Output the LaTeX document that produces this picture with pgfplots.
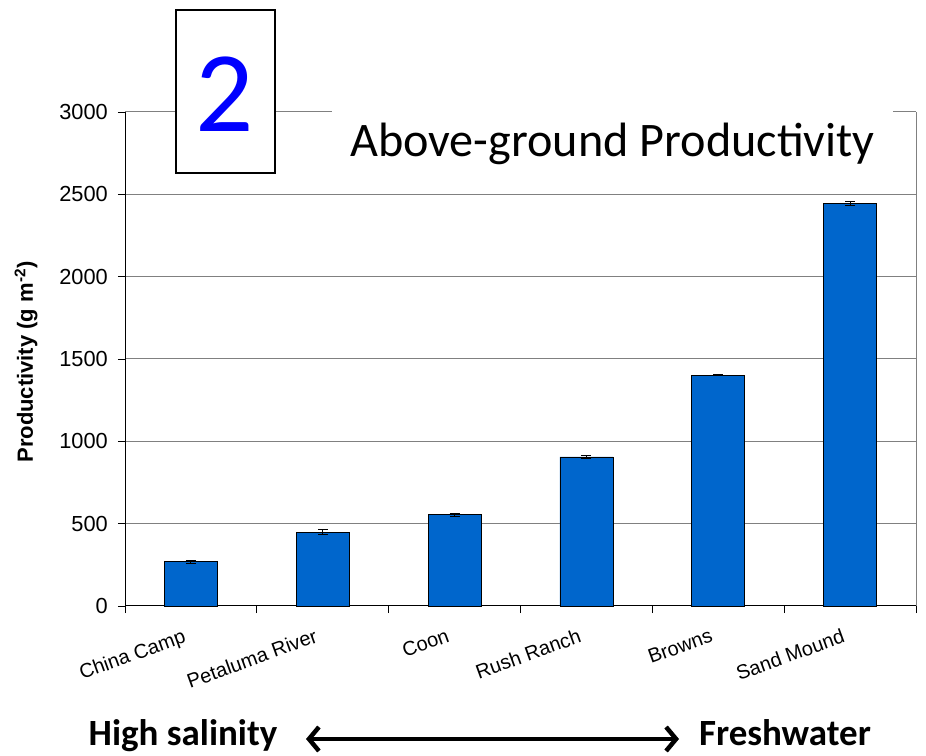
\documentclass[border=0pt]{standalone}
\usepackage{pgfplots}
\pgfplotsset{compat=1.18}
\usepackage{fontspec}
\setmainfont{Liberation Sans}
\newfontfamily\calibri{Carlito}
\usetikzlibrary{arrows.meta}
\definecolor{barblue}{RGB}{0,102,204}
\definecolor{gridgray}{RGB}{128,128,128}
\definecolor{boxblue}{RGB}{0,0,255}

\begin{document}
\begin{tikzpicture}
\begin{axis}[
  at={(125bp,150bp)}, anchor=south west,
  scale only axis, width=791bp, height=494bp,
  xmin=-0.5, xmax=5.5, ymin=0, ymax=3000,
  axis lines*=left,
  axis line style={-, black, line width=1bp},
  ytick={0,500,...,3000},
  xtick={-0.5,0.5,...,5.5},
  x tick label as interval,
  xticklabels={China Camp, Petaluma River, Coon, Rush Ranch, Browns, Sand Mound},
  tick align=outside,
  major tick length=7bp,
  tick style={black, line width=0.8bp},
  ymajorgrids,
  major grid style={gridgray, line width=1bp},
  /pgf/number format/assume math mode=true,
  /pgf/number format/1000 sep={},
  yticklabel style={font=\fontsize{21.8bp}{25bp}\selectfont, inner sep=0pt, xshift=-10bp},
  xticklabel style={font=\fontsize{20bp}{24bp}\selectfont, inner sep=0pt,
     xshift=-9bp, yshift=-15bp, rotate=20, anchor=north east},
  clip=false,
]
\addplot[ybar, bar width=53bp, fill=barblue, draw=black, line width=0.8bp,
  error bars/.cd, y dir=both, y explicit,
  error bar style={black, line width=1bp},
  error mark options={rotate=90, mark size=5bp, line width=1bp, black}]
  coordinates {
  (0,270) +- (0,9)
  (1,449) +- (0,16)
  (2,555) +- (0,9)
  (3,905) +- (0,11)
  (4,1402) +- (0,5)
  (5,2446) +- (0,12)
  };
\draw[gridgray, line width=1bp] (axis cs:5.5,0) -- (axis cs:5.5,3000);
\end{axis}
% title
\fill[white] (332bp,576bp) rectangle (893bp,652bp);
\node[anchor=base, inner sep=0pt] at (612.5bp,599bp)
  {\calibri\fontsize{48.2bp}{56bp}\selectfont Above-ground Productivity};
% box with 2
\draw[line width=2bp, fill=white] (176bp,583bp) rectangle (275bp,746bp);
\node[anchor=base, inner sep=0pt, text=boxblue] at (224.5bp,624bp)
  {\calibri\fontsize{115bp}{120bp}\selectfont 2};
% y label
\node[rotate=90, inner sep=0pt] at (26bp,394bp)
  {\fontsize{22bp}{26bp}\selectfont\bfseries Productivity (g m\textsuperscript{-2})};
% bottom
\node[anchor=base, inner sep=0pt] at (183bp,11bp)
  {\calibri\fontsize{37bp}{44bp}\selectfont\bfseries High salinity};
\node[anchor=base, inner sep=0pt] at (785bp,11bp)
  {\calibri\fontsize{37bp}{44bp}\selectfont\bfseries Freshwater};
\draw[line width=4.5bp, {Straight Barb[length=10bp,width=24bp]}-{Straight Barb[length=10bp,width=24bp]}]
  (306bp,17bp) -- (679bp,17bp);
\pgfresetboundingbox
\useasboundingbox (0,0) rectangle (926bp,756bp);
\end{tikzpicture}
\end{document}
